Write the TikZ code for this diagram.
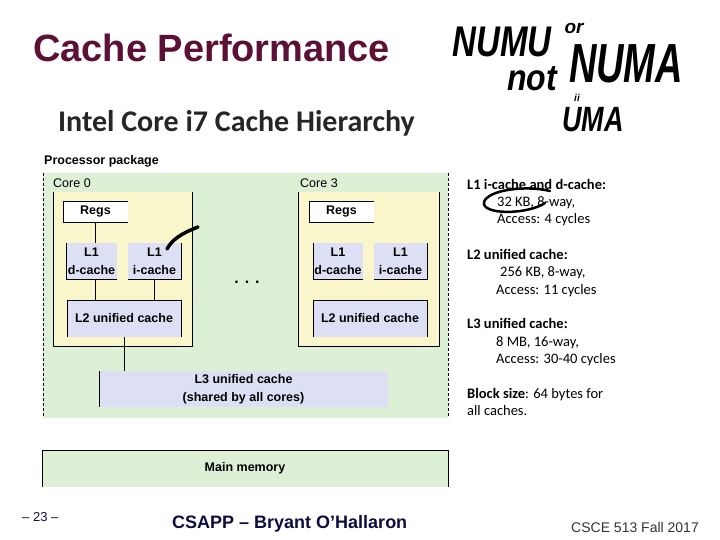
\documentclass[tikz,border=0pt]{standalone}
\usepackage{fontspec}
\usepackage{graphicx}
\setmainfont{Liberation Sans}
\newfontfamily\calibrifont{Carlito}
\usepackage{tikz}
\usetikzlibrary{positioning}
\definecolor{slidemaroon}{RGB}{92,16,54}
\definecolor{pkggreen}{RGB}{221,240,214}
\definecolor{coreyellow}{RGB}{250,246,204}
\definecolor{cachelav}{RGB}{221,224,245}
\definecolor{footnavy}{RGB}{12,12,64}

\begin{document}
\begin{tikzpicture}[
      x=1pt, y=-1pt,
      area/.style={inner sep=0pt, outer sep=0pt, anchor=center},
      pkgarea/.style={area, fill=pkggreen},
      corebox/.style={area, fill=coreyellow},
      cachebox/.style={area, fill=cachelav, align=center, font=\fontsize{12.5}{18}\selectfont\bfseries},
      regbox/.style={area, fill=white, font=\fontsize{12.5}{14}\selectfont\bfseries},
      rim/.style={draw=black, line width=0.8pt},
      lbl/.style={anchor=base west, inner sep=0pt, font=\fontsize{12.5}{14}\selectfont},
      note/.style={anchor=base west, inner sep=0pt, font=\calibrifont\fontsize{14.5}{17}\selectfont},
      hand/.style={inner sep=0pt, font=\bfseries\itshape},
      ink/.style={line width=3pt, line cap=round, black}
    ]
      \useasboundingbox (0,0) rectangle (720,540);

      % slide titles
      \node[anchor=base west, inner sep=0pt, font=\fontsize{38}{42}\selectfont\bfseries, text=slidemaroon] (title) at (33,62) {Cache Performance};
      \node[anchor=base west, inner sep=0pt, font=\calibrifont\bfseries\fontsize{30}{34}\selectfont, text=black!85] (heading) at (58,132) {Intel Core i7 Cache Hierarchy};

      % processor package
      \node[lbl, font=\fontsize{12.5}{14}\selectfont\bfseries] (pkglbl) at (44,165) {Processor package};
      \node[pkgarea, minimum width=405pt, minimum height=245pt] (pkg) at (245.5,295.5) {};
      \draw[rim, dash pattern=on 3pt off 2pt] (pkg.north west) -- (pkg.south west);
      \draw[rim, dash pattern=on 3pt off 2pt] (pkg.north east) -- (pkg.south east);

      % core 0
      \node[lbl] (core0lbl) at (53,188) {Core 0};
      \node[corebox, minimum width=139pt, minimum height=154pt] (core0) at (122.5,269) {};
      \draw[rim] (core0.north west) -- (core0.south west) -- (core0.south east) -- (core0.north east);
      \node[regbox, minimum width=65pt, minimum height=21pt] (regs0) at (95.5,211.5) {Regs};
      \draw[rim] (regs0.north east) -- (regs0.north west) -- (regs0.south west) -- (regs0.south east);
      \node[cachebox, minimum width=51pt, minimum height=36pt] (l1d0) at (91.5,261) {L1\\d-cache};
      \draw[rim] (l1d0.north west) -- (l1d0.south west) -- (l1d0.south east);
      \node[cachebox, minimum width=53pt, minimum height=36pt] (l1i0) at (154.5,261) {L1\\i-cache};
      \draw[rim] (l1i0.south west) -- (l1i0.south east) -- (l1i0.north east);
      \node[cachebox, minimum width=114pt, minimum height=37pt] (l2c0) at (124,318.5) {L2 unified cache};
      \draw[rim] (l2c0.south west) -- (l2c0.north west) -- (l2c0.north east) -- (l2c0.south east);

      \node[inner sep=0pt, font=\fontsize{16}{16}\selectfont\bfseries] (dots) at (247,282) {. . .};

      % core 3
      \node[lbl] (core3lbl) at (300,188) {Core 3};
      \node[corebox, minimum width=141pt, minimum height=154pt] (core3) at (368.5,269) {};
      \draw[rim] (core3.north west) -- (core3.south west) -- (core3.south east) -- (core3.north east);
      \node[regbox, minimum width=65pt, minimum height=21pt] (regs3) at (341.5,211.5) {Regs};
      \draw[rim] (regs3.north east) -- (regs3.north west) -- (regs3.south west) -- (regs3.south east);
      \node[cachebox, minimum width=50pt, minimum height=36pt] (l1d3) at (338,261) {L1\\d-cache};
      \draw[rim] (l1d3.north west) -- (l1d3.south west) -- (l1d3.south east);
      \node[cachebox, minimum width=53pt, minimum height=36pt] (l1i3) at (400.5,261) {L1\\i-cache};
      \draw[rim] (l1i3.south west) -- (l1i3.south east) -- (l1i3.north east);
      \node[cachebox, minimum width=114pt, minimum height=37pt] (l2c3) at (370,318.5) {L2 unified cache};
      \draw[rim] (l2c3.south west) -- (l2c3.north west) -- (l2c3.north east) -- (l2c3.south east);

      % shared L3 and memory
      \node[cachebox, minimum width=289pt, minimum height=36pt] (l3) at (243.5,389) {L3 unified cache\\(shared by all cores)};
      \draw[rim] (l3.north west) -- (l3.south west);
      \node[pkgarea, minimum width=406pt, minimum height=37pt, font=\fontsize{12.5}{14}\selectfont\bfseries] (mem) at (245,468.5) {Main memory};
      \draw[rim] (mem.south west) -- (mem.north west) -- (mem.north east) -- (mem.south east);

      % wires in core 0
      \draw[rim] (regs0.south) -- (regs0.south |- l1d0.north);
      \draw[rim] (regs0.south |- l1d0.south) -- (regs0.south |- l2c0.north);
      \draw[rim] (l1i0.south) -- (l1i0.south |- l2c0.north);
      \draw[rim] (l2c0.south) -- (l2c0.south |- l3.north);

      % cache parameters
      \node[note, font=\calibrifont\bfseries\fontsize{14.5}{17}\selectfont] (l1head) at (467,190) {L1 i-cache and d-cache:};
      \node[note] (l1size) at (497,207) {32 KB, 8-way,};
      \node[note] (l1acc) at (497,224) {Access: 4 cycles};
      \node[note, font=\calibrifont\bfseries\fontsize{14.5}{17}\selectfont] (l2head) at (467,259) {L2 unified cache:};
      \node[note] (l2size) at (500,276) {256 KB, 8-way,};
      \node[note] (l2acc) at (496,294) {Access: 11 cycles};
      \node[note, font=\calibrifont\bfseries\fontsize{14.5}{17}\selectfont] (l3head) at (467,328) {L3 unified cache:};
      \node[note] (l3size) at (496,346) {8 MB, 16-way,};
      \node[note] (l3acc) at (496,363) {Access: 30-40 cycles};
      \node[note] (blk1) at (467,398) {\textbf{Block size}: 64 bytes for};
      \node[note] (blk2) at (467,415) {all caches.};

      % handwritten notes
      \node[hand, font=\bfseries\itshape\fontsize{33}{33}\selectfont] (numu) at (502,42) {\scalebox{1}[1.3]{NUMU}};
      \node[hand, font=\bfseries\itshape\fontsize{19}{19}\selectfont] (or) at (574,28) {or};
      \node[hand, font=\bfseries\itshape\fontsize{32}{32}\selectfont] (notw) at (532,79) {\scalebox{1}[1.15]{not}};
      \node[hand, font=\bfseries\itshape\fontsize{38}{38}\selectfont] (numa) at (626,64) {\scalebox{1}[1.45]{NUMA}};
      \node[hand, font=\bfseries\itshape\fontsize{10}{10}\selectfont] (eq) at (577,98) {ii};
      \node[hand, font=\bfseries\itshape\fontsize{27}{27}\selectfont] (uma) at (593,120) {\scalebox{1}[1.3]{UMA}};
      \draw[ink, line width=2.5pt] (550,191) .. controls (525,185) and (488,190) .. (484,202) .. controls (481,215) and (527,215) .. (545,203);
      \draw[ink, line width=3.5pt] (167,249) .. controls (172,240) and (180,234) .. (198,227);

      % footer
      \node[anchor=base west, inner sep=0pt, font=\fontsize{13}{15}\selectfont, text=footnavy] (pagenum) at (22,521) {\textendash{} 23 \textendash};
      \node[anchor=base west, inner sep=0pt, font=\fontsize{18}{21}\selectfont\bfseries, text=footnavy] (credit) at (172,528) {CSAPP \textendash{} Bryant O’Hallaron};
      \node[anchor=base west, inner sep=0pt, font=\fontsize{14}{16}\selectfont, text=black!80] (course) at (571,532) {CSCE 513 Fall 2017};
    \end{tikzpicture}
\end{document}
